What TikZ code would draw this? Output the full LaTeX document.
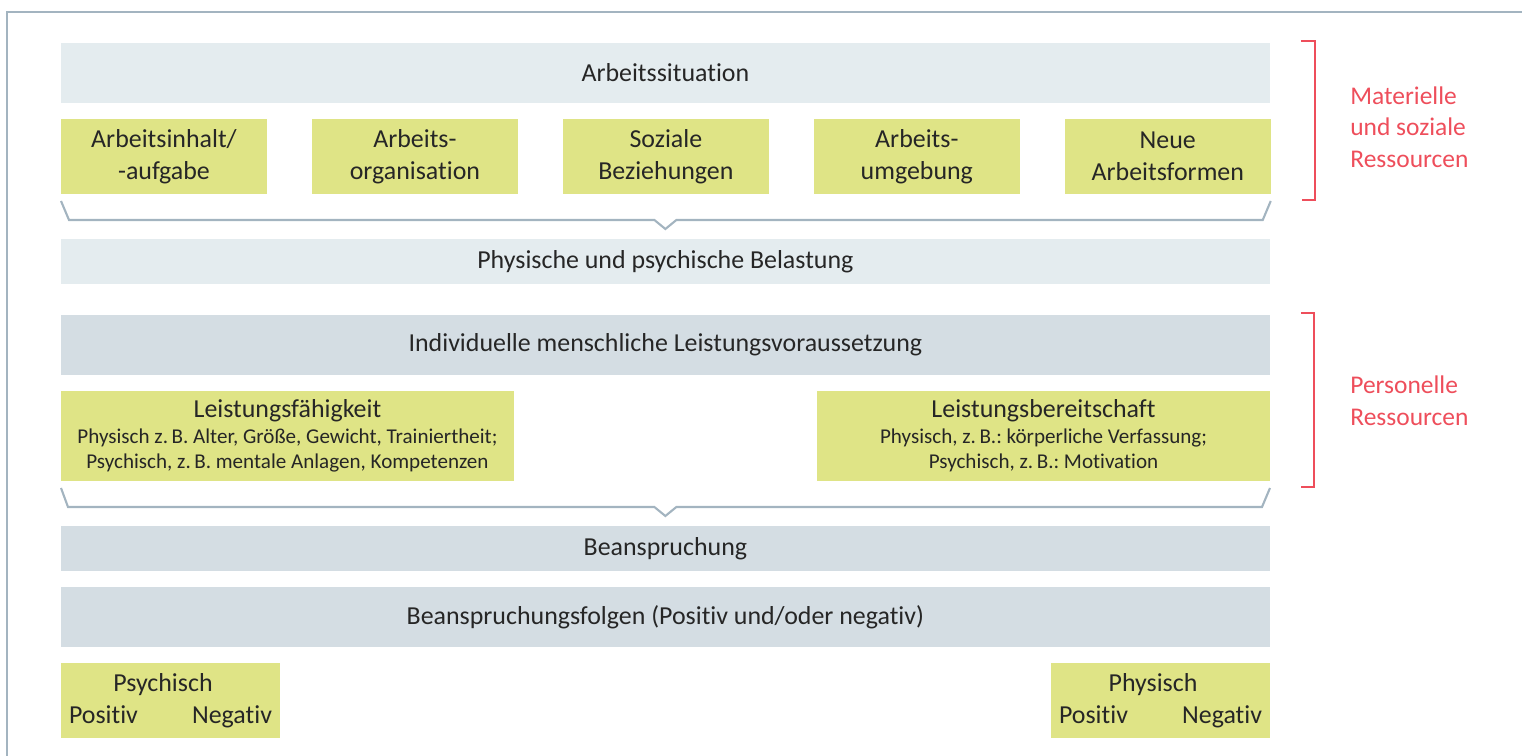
\documentclass[tikz,border=0pt]{standalone}
\usepackage{fontspec}
\setmainfont[Ligatures=NoCommon]{Carlito}
\usetikzlibrary{positioning, calc}
\definecolor{bandHell}{HTML}{E4ECEF}
\definecolor{bandGrau}{HTML}{D4DDE3}
\definecolor{gelbFeld}{HTML}{DFE486}
\definecolor{rahmenGrau}{HTML}{A3B4C0}
\definecolor{rotText}{HTML}{EE4E5B}
\definecolor{textDunkel}{HTML}{262626}
\newcommand{\kleinText}{\fontsize{12}{14.5}\selectfont}
\frenchspacing

\begin{document}
\begin{tikzpicture}[x=0.02cm, y=-0.02cm,
        node distance=0.9cm,
        breit/.style={fill=bandHell, minimum width=24.18cm, minimum height=1.2cm, inner sep=0pt,
            outer sep=0pt, anchor=north west, text=textDunkel, font=\fontsize{14.75}{18}\selectfont},
        dunkel/.style={breit, fill=bandGrau},
        feld/.style={fill=gelbFeld, minimum width=4.12cm, minimum height=1.5cm, inner sep=0pt,
            outer sep=0pt, align=center, text=textDunkel, font=\fontsize{14.75}{18}\selectfont},
        gross/.style={feld, minimum width=9.06cm, minimum height=1.8cm, font=\fontsize{14.75}{14.5}\selectfont},
        bogen/.style={draw=rahmenGrau, line width=1.2pt},
        klammer/.style={draw=rotText, line width=1.2pt},
        rot/.style={text=rotText, align=left, anchor=west, inner sep=0pt, font=\fontsize{14.5}{18}\selectfont}
    ]
    \useasboundingbox (0,0) rectangle (1522,756);
    \draw[rahmenGrau, line width=1.4pt] (7,756) |- (1522,12);

    % Materielle und soziale Ressourcen
    \node[breit] (arbeit) at (61,43) {Arbeitssituation};
    \node[feld, anchor=north west] (a1) at (61,119) {Arbeitsinhalt/\\-aufgabe};
    \node[feld, right=of a1] (a2) {Arbeits-\\organisation};
    \node[feld, right=of a2] (a3) {Soziale\\Beziehungen};
    \node[feld, right=of a3] (a4) {Arbeits-\\umgebung};
    \node[feld, right=of a4] (a5) {Neue\\Arbeitsformen};
    \node[breit, minimum height=0.9cm] (belast) at (61,239) {Physische und psychische Belastung};
    \draw[bogen] ($(a1.south west)+(0,7)$) -- ++(8,19) -- ($(belast.north)+(-11,-19)$)
        -- ($(belast.north)+(0,-10)$) -- ($(belast.north)+(11,-19)$)
        -- ($(a5.south east)+(-8,26)$) -- ($(a5.south east)+(0,7)$);

    % Personelle Ressourcen
    \node[dunkel] (indiv) at (61,315) {Individuelle menschliche Leistungsvoraussetzung};
    \node[gross, anchor=north west] (faeh) at (61,391) {Leistungsfähigkeit\\
        {\kleinText Physisch z.\,B. Alter, Größe, Gewicht, Trainiertheit;}\\
        {\kleinText Psychisch, z.\,B. mentale Anlagen, Kompetenzen}};
    \node[gross, anchor=north east] (bereit) at (1270,391) {Leistungsbereitschaft\\
        {\kleinText Physisch, z.\,B.: körperliche Verfassung;}\\
        {\kleinText Psychisch, z.\,B.: Motivation}};
    \node[dunkel, minimum height=0.9cm] (beansp) at (61,526) {Beanspruchung};
    \draw[bogen] ($(faeh.south west)+(0,7)$) -- ++(7,19) -- ($(beansp.north)+(-11,-19)$)
        -- ($(beansp.north)+(0,-10)$) -- ($(beansp.north)+(11,-19)$)
        -- ($(bereit.south east)+(-8,26)$) -- ($(bereit.south east)+(0,7)$);
    \node[dunkel] (folgen) at (61,587) {Beanspruchungsfolgen (Positiv und/oder negativ)};

    \node[feld, minimum width=4.38cm, anchor=north west] (psych) at (61,663)
        {\hspace*{-0.3cm}Psychisch\\\makebox[4.06cm]{Positiv\hfill Negativ}};
    \node[feld, minimum width=4.38cm, anchor=north east] (phys) at (1270,663)
        {\hspace*{-0.3cm}Physisch\\\makebox[4.06cm]{Positiv\hfill Negativ}};

    % rote Klammern
    \draw[klammer] ($(arbeit.north east)+(31,-2)$) -| ($(a5.south east)+(44,6)$) -- ++(-13,0);
    \node[rot] (matRes) at (1350,127) {Materielle\\und soziale\\Ressourcen};
    \draw[klammer] ($(indiv.north east)+(31,-2)$) -| ($(bereit.south east)+(44,6)$) -- ++(-13,0);
    \node[rot] (persRes) at (1350,401) {Personelle\\Ressourcen};
\end{tikzpicture}
\end{document}
